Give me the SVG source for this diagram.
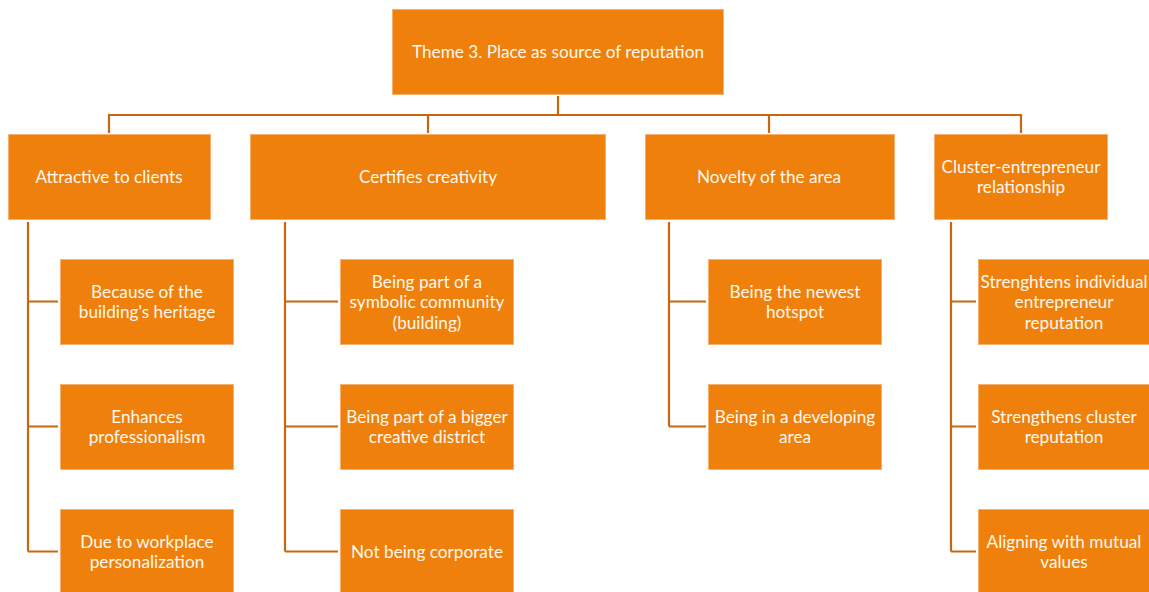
<svg xmlns="http://www.w3.org/2000/svg" width="1149" height="592" viewBox="0 0 1149 592">
<style>
.box{fill:#EF800C;stroke:#F6B070;stroke-width:1}
.t{font-family:Lato,"Liberation Sans",sans-serif;font-size:17.2px;fill:#FFF8EE;text-anchor:middle}
.c{fill:none;stroke:#C5680F;stroke-width:2.2}
</style>
<rect width="1149" height="592" fill="#FFFFFF"/>
<g id="connectors">
<path class="c" d="M558,96 V115 M109,115 H1021 M109,114 V133 M428,114 V133 M769,114 V133 M1021,114 V133"/>
<path class="c" d="M28,222 V551.5 M28,301.5 H58 M28,426.5 H58 M28,551.5 H58"/>
<path class="c" d="M285,222 V551.5 M285,301.5 H338 M285,426.5 H338 M285,551.5 H338"/>
<path class="c" d="M669,222 V426.5 M669,301.5 H706 M669,426.5 H706"/>
<path class="c" d="M951,222 V551.5 M951,301.5 H976 M951,426.5 H976 M951,551.5 H976"/>
</g>
<g id="root"><rect class="box" x="392.5" y="9.5" width="331" height="85"/><text class="t" x="558" y="57.5">Theme 3. Place as source of reputation</text></g>
<g id="n-attractive"><rect class="box" x="8.5" y="134.5" width="202" height="85"/><text class="t" x="109" y="182.5">Attractive to clients</text></g>
<g id="n-certifies"><rect class="box" x="250.5" y="134.5" width="355" height="85"/><text class="t" x="428" y="182.5">Certifies creativity</text></g>
<g id="n-novelty"><rect class="box" x="645.5" y="134.5" width="249" height="85"/><text class="t" x="769" y="182.5">Novelty of the area</text></g>
<g id="n-cluster"><rect class="box" x="934.5" y="134.5" width="173" height="85"/><text class="t" x="1021" y="172.5">Cluster-entrepreneur</text><text class="t" x="1021" y="193">relationship</text></g>

<g id="a1"><rect class="box" x="60.5" y="259.5" width="173" height="85"/><text class="t" x="147" y="297.5">Because of the</text><text class="t" x="147" y="318">building's heritage</text></g>
<g id="a2"><rect class="box" x="60.5" y="384.5" width="173" height="85"/><text class="t" x="147" y="422.5">Enhances</text><text class="t" x="147" y="443">professionalism</text></g>
<g id="a3"><rect class="box" x="60.5" y="509.5" width="173" height="85"/><text class="t" x="147" y="547.5">Due to workplace</text><text class="t" x="147" y="568">personalization</text></g>

<g id="c1"><rect class="box" x="340.5" y="259.5" width="173" height="85"/><text class="t" x="427" y="287.5">Being part of a</text><text class="t" x="427" y="308">symbolic community</text><text class="t" x="427" y="328.5">(building)</text></g>
<g id="c2"><rect class="box" x="340.5" y="384.5" width="173" height="85"/><text class="t" x="427" y="422.5">Being part of a bigger</text><text class="t" x="427" y="443">creative district</text></g>
<g id="c3"><rect class="box" x="340.5" y="509.5" width="173" height="85"/><text class="t" x="427" y="557.5">Not being corporate</text></g>

<g id="v1"><rect class="box" x="708.5" y="259.5" width="173" height="85"/><text class="t" x="795" y="297.5">Being the newest</text><text class="t" x="795" y="318">hotspot</text></g>
<g id="v2"><rect class="box" x="708.5" y="384.5" width="173" height="85"/><text class="t" x="795" y="422.5">Being in a developing</text><text class="t" x="795" y="443">area</text></g>

<g id="r1"><rect class="box" x="978.5" y="259.5" width="173" height="85"/><text class="t" x="1064" y="287.5">Strenghtens individual</text><text class="t" x="1064" y="308">entrepreneur</text><text class="t" x="1064" y="328.5">reputation</text></g>
<g id="r2"><rect class="box" x="978.5" y="384.5" width="173" height="85"/><text class="t" x="1064" y="422.5">Strengthens cluster</text><text class="t" x="1064" y="443">reputation</text></g>
<g id="r3"><rect class="box" x="978.5" y="509.5" width="173" height="85"/><text class="t" x="1064" y="547.5">Aligning with mutual</text><text class="t" x="1064" y="568">values</text></g>
</svg>
